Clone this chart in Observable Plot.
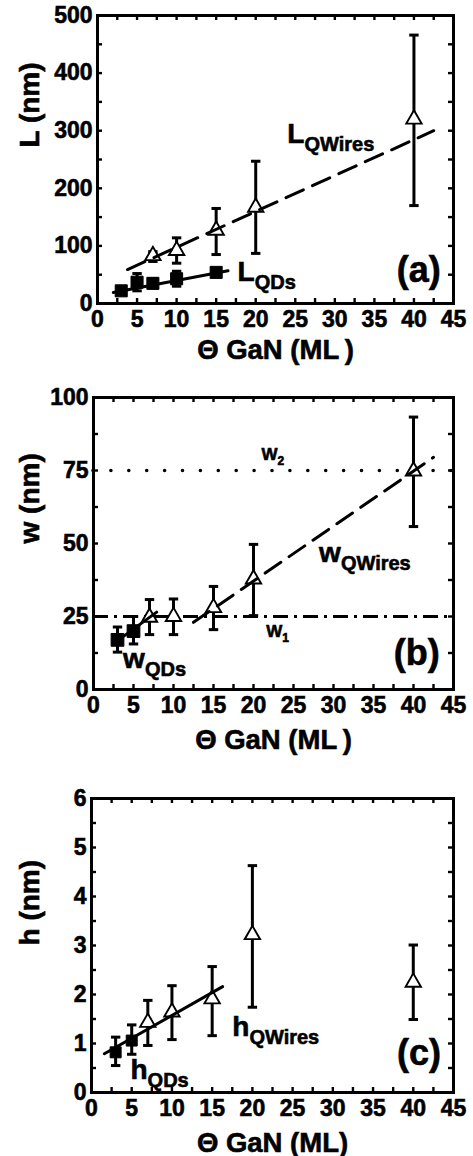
<!DOCTYPE html>
<html>
<head>
<meta charset="utf-8">
<script src="https://cdn.jsdelivr.net/npm/d3@7"></script>
<script src="https://cdn.jsdelivr.net/npm/@observablehq/plot@0.6"></script>
<style>
  html, body { margin: 0; padding: 0; background: #fff; overflow: hidden; }
  #fig svg { display: block; }
</style>
</head>
<body>
<div id="fig"></div>
<script>
const FONT = "'Liberation Sans', Arial, Helvetica, sans-serif";

// ---- shared x axis ----
const xTickLabels = [0, 5, 10, 15, 20, 25, 30, 35, 40, 45];
const xMinorTicks = [2.5, 5, 7.5, 10, 12.5, 15, 17.5, 20, 22.5, 25, 27.5, 30, 32.5, 35, 37.5, 40, 42.5];
const xTitles = ["\u0398 GaN (ML\u2009)", "\u0398 GaN (ML\u2009)", "\u0398 GaN (ML)"];

// ---- panel (a): L (nm) ----
const L_yTicks = [0, 100, 200, 300, 400, 500];
const L_yMinor = [50, 100, 150, 200, 250, 300, 350, 400, 450];
const L_qdX = [3, 5, 7, 10, 15];
const L_qd = [22, 37, 35, 43, 54];
const L_qdLo = [17, 22, 27, 30, 48];
const L_qdHi = [27, 52, 43, 56, 60];
const L_qwX = [7, 10, 15, 20, 40];
const L_qw = [83, 92, 127, 167, 320];
const L_qwLo = [73, 70, 85, 87, 170];
const L_qwHi = [90, 114, 165, 247, 466];
const L_qdFitX = [2, 16.5];
const L_qdFitY = [19, 57];
const L_qwFitX = [3.8, 42.5];
const L_qwFitY = [59, 300];

// ---- panel (b): w (nm) ----
const w_yTicks = [0, 25, 50, 75, 100];
const w_yMinor = [12.5, 25, 37.5, 50, 62.5, 75, 87.5];
const w_qdX = [3, 5];
const w_qd = [17, 20];
const w_qdLo = [12.8, 15.6];
const w_qdHi = [21.4, 25];
const w_qwX = [7, 10, 15, 20, 40];
const w_qw = [24.7, 25, 28, 37.8, 74.8];
const w_qwLo = [18.8, 18.8, 20.5, 25.3, 55.8];
const w_qwHi = [30.8, 31, 35.3, 49.7, 93.3];
const w_qdFitX = [2.5, 7.9];
const w_qdFitY = [15.7, 26.5];
const w_qwFitX = [12.5, 42.5];
const w_qwFitY = [23, 79.5];
const W1 = 25;
const W2 = 75;

// ---- panel (c): h (nm) ----
const h_yTicks = [0, 1, 2, 3, 4, 5, 6];
const h_yMinor = [0.5, 1, 1.5, 2, 2.5, 3, 3.5, 4, 4.5, 5, 5.5];
const h_qdX = [3, 5];
const h_qd = [0.82, 1.06];
const h_qdLo = [0.55, 0.78];
const h_qdHi = [1.13, 1.38];
const h_qwX = [7, 10, 15, 20, 40];
const h_qw = [1.43, 1.64, 1.91, 3.22, 2.25];
const h_qwLo = [0.96, 1.08, 1.16, 1.74, 1.49];
const h_qwHi = [1.88, 2.18, 2.57, 4.63, 3.01];
const h_qdFitX = [1.6, 16.3];
const h_qdFitY = [0.79, 2.16];

// ---- annotations (data coordinates) ----
const annA = [
  {x: 24.0, y: 295, main: "L", sub: "QWires"},
  {x: 17.7, y: 54, main: "L", sub: "QDs"}
];
const annB = [
  {x: 28.2, y: 46.6, main: "w", sub: "QWires"},
  {x: 3.7, y: 10.6, main: "w", sub: "QDs"}
];
const annBsmall = [
  {x: 21.0, y: 80.5, main: "W", sub: "2"},
  {x: 21.6, y: 19.9, main: "W", sub: "1"}
];
const annC = [
  {x: 17.5, y: 1.33, main: "h", sub: "QWires"},
  {x: 4.85, y: 0.45, main: "h", sub: "QDs"}
];
const panelTags = [
  {x: 40.6, y: 57, t: "(a)"},
  {x: 40.4, y: 12.3, t: "(b)"},
  {x: 40.7, y: 0.80, t: "(c)"}
];

// ---- helpers ----
const rows = (xs, ys, lo, hi) => xs.map((x, i) => ({x, y: ys[i], lo: lo ? lo[i] : undefined, hi: hi ? hi[i] : undefined}));
const capSymbol = {
  draw(ctx, size) {
    const w = Math.sqrt(size);
    ctx.moveTo(-w / 2, 0);
    ctx.lineTo(w / 2, 0);
  }
};
const subInfo = new Map();
function annText(list, subSize, subShift) {
  return list.map(d => {
    const key = d.main + "|" + d.sub;
    subInfo.set(key, {size: subSize, shift: subShift});
    return {...d, t: key};
  });
}

const SW = 3;

function errorMarks(data) {
  return [
    Plot.ruleX(data, {x: "x", y1: "lo", y2: "hi", stroke: "black", strokeWidth: SW}),
    Plot.dot(data, {x: "x", y: "lo", symbol: capSymbol, r: 5.3, stroke: "black", strokeWidth: SW, fill: "none"}),
    Plot.dot(data, {x: "x", y: "hi", symbol: capSymbol, r: 5.3, stroke: "black", strokeWidth: SW, fill: "none"})
  ];
}

function panel(o) {
  const plotH = o.height - o.mt - o.mb;
  const plotW = 473 - o.ml - o.mr;
  const marks = [
    // inward ticks on all four sides
    Plot.tickX(xMinorTicks, {x: d => d, insetTop: plotH - 5, stroke: "black", strokeWidth: 2.4}),
    Plot.tickX(xMinorTicks, {x: d => d, insetBottom: plotH - 5, stroke: "black", strokeWidth: 2.4}),
    Plot.tickY(o.yMinor, {y: d => d, insetRight: plotW - 5, stroke: "black", strokeWidth: 2.4}),
    Plot.tickY(o.yMinor, {y: d => d, insetLeft: plotW - 5, stroke: "black", strokeWidth: 2.4}),
    ...o.under,
    ...errorMarks(o.qd),
    ...errorMarks(o.qw),
    Plot.dot(o.qd, {x: "x", y: "y", symbol: "square", r: o.sqR, fill: "black", stroke: "black", strokeWidth: 1}),
    Plot.dot(o.qw, {x: "x", y: "y", symbol: "triangle", r: o.triR, fill: "white", stroke: "black", strokeWidth: 1.9}),
    ...o.over,
    Plot.text(o.ann, {x: "x", y: "y", text: "t", textAnchor: "start", lineAnchor: "middle", fontSize: 28, fontWeight: "bold", fill: "black"}),
    Plot.text([o.tag], {x: "x", y: "y", text: "t", textAnchor: "middle", lineAnchor: "middle", fontSize: 36, fontWeight: "bold", fill: "black"}),
    Plot.axisX({ticks: xTickLabels, tickSize: 0, tickPadding: 7, fontSize: 23, fontWeight: "bold", label: null, tickFormat: d => String(d)}),
    Plot.axisY({ticks: o.yTicks, tickSize: 0, tickPadding: 5, fontSize: 23, fontWeight: "bold", label: null, tickFormat: d => String(d)}),
    Plot.text([o.xTitle], {frameAnchor: "bottom", dy: o.xTitleDy, text: d => d, lineAnchor: "middle", fontSize: 27.5, fontWeight: "bold", fill: "black"}),
    Plot.text([o.yTitle], {frameAnchor: "left", dx: -(o.ml - 30), dy: o.yTitleDy, rotate: -90, text: d => d, lineAnchor: "middle", fontSize: 28, fontWeight: "bold", fill: "black"}),
    Plot.frame({stroke: "black", strokeWidth: SW})
  ];
  const svg = Plot.plot({
    width: 473,
    height: o.height,
    marginTop: o.mt,
    marginBottom: o.mb,
    marginLeft: o.ml,
    marginRight: o.mr,
    x: {domain: [0, 45]},
    y: {domain: o.yDomain},
    style: {fontFamily: FONT, background: "white", color: "black", overflow: "visible"},
    marks
  });
  // subscripts + heavier glyphs
  d3.select(svg).selectAll("text").each(function () {
    const sel = d3.select(this);
    sel.attr("stroke", "black").attr("stroke-width", 0.6).attr("paint-order", "stroke");
    const t = this.textContent;
    if (!subInfo.has(t)) return;
    const info = subInfo.get(t);
    const [main, sub] = t.split("|");
    sel.text(null);
    sel.append("tspan").text(main);
    sel.append("tspan").attr("font-size", info.size).attr("dy", info.shift).text(sub);
  });
  return svg;
}

const fig = document.getElementById("fig");

// panel (a)
fig.appendChild(panel({
  height: 375, mt: 15, mb: 72, ml: 97, mr: 20,
  yDomain: [0, 500], yTicks: L_yTicks, yMinor: L_yMinor,
  qd: rows(L_qdX, L_qd, L_qdLo, L_qdHi),
  qw: rows(L_qwX, L_qw, L_qwLo, L_qwHi),
  sqR: 6.8, triR: 5.7,
  under: [],
  over: [
    Plot.line(rows(L_qdFitX, L_qdFitY), {x: "x", y: "y", stroke: "black", strokeWidth: SW}),
    Plot.line(rows(L_qwFitX, L_qwFitY), {x: "x", y: "y", stroke: "black", strokeWidth: SW, strokeDasharray: "19,10"})
  ],
  ann: annText(annA, 20, 8),
  tag: panelTags[0],
  xTitle: xTitles[0], xTitleDy: 47,
  yTitle: "L (nm)", yTitleDy: -12
}));

// panel (b)
const bSmall = annText(annBsmall, 12, 5);
fig.appendChild(panel({
  height: 390, mt: 22, mb: 76, ml: 93, mr: 20,
  yDomain: [0, 100], yTicks: w_yTicks, yMinor: w_yMinor,
  qd: rows(w_qdX, w_qd, w_qdLo, w_qdHi),
  qw: rows(w_qwX, w_qw, w_qwLo, w_qwHi),
  sqR: 7.2, triR: 5.7,
  under: [
    Plot.ruleY([W2], {y: d => d, stroke: "black", strokeWidth: 3.6, strokeLinecap: "round", strokeDasharray: "0,17.9"}),
    Plot.ruleY([W1], {y: d => d, stroke: "black", strokeWidth: SW, strokeDasharray: "15,6,3,6"})
  ],
  over: [
    Plot.line(rows(w_qdFitX, w_qdFitY), {x: "x", y: "y", stroke: "black", strokeWidth: SW}),
    Plot.line(rows(w_qwFitX, w_qwFitY), {x: "x", y: "y", stroke: "black", strokeWidth: SW, strokeDasharray: "19,10"}),
    Plot.text(bSmall, {x: "x", y: "y", text: "t", textAnchor: "start", lineAnchor: "middle", fontSize: 17, fontWeight: "bold", fill: "black"})
  ],
  ann: annText(annB, 20, 8),
  tag: panelTags[1],
  xTitle: xTitles[1], xTitleDy: 51,
  yTitle: "w (nm)", yTitleDy: 0
}));

// panel (c)
fig.appendChild(panel({
  height: 391, mt: 33, mb: 64, ml: 91, mr: 20,
  yDomain: [0, 6], yTicks: h_yTicks, yMinor: h_yMinor,
  qd: rows(h_qdX, h_qd, h_qdLo, h_qdHi),
  qw: rows(h_qwX, h_qw, h_qwLo, h_qwHi),
  sqR: 6.2, triR: 5.7,
  under: [],
  over: [
    Plot.line(rows(h_qdFitX, h_qdFitY), {x: "x", y: "y", stroke: "black", strokeWidth: SW})
  ],
  ann: annText(annC, 20, 8),
  tag: panelTags[2],
  xTitle: xTitles[2], xTitleDy: 51,
  yTitle: "h (nm)", yTitleDy: 0
}));
</script>
</body>
</html>
